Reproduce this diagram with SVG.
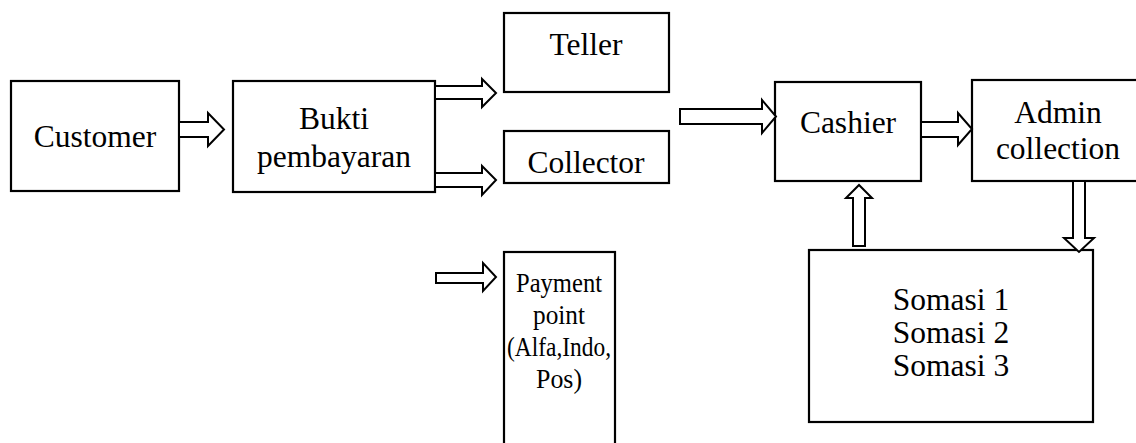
<svg xmlns="http://www.w3.org/2000/svg" width="1136" height="443" viewBox="0 0 1136 443">
<style>
.box{fill:#fff;stroke:#000;stroke-width:2.2}
.arr{fill:#fff;stroke:#000;stroke-width:2;stroke-linejoin:miter}
.t{font-family:"Liberation Serif","Times New Roman",serif;font-size:31.5px;fill:#000;text-anchor:middle}
.p{font-size:28px}
</style>
<rect width="1136" height="443" fill="#fff"/>
<g id="customer"><rect class="box" x="11" y="81" width="168" height="110"/><text class="t" x="95" y="147">Customer</text></g>
<g id="bukti"><rect class="box" x="233" y="81" width="202" height="111"/><text class="t" x="334" y="129">Bukti</text><text class="t" x="334" y="167">pembayaran</text></g>
<g id="teller"><rect class="box" x="504" y="13" width="165" height="79"/><text class="t" x="586" y="55">Teller</text></g>
<g id="collector"><rect class="box" x="504" y="131" width="165" height="52"/><text class="t" x="586" y="173">Collector</text></g>
<g id="payment"><rect class="box" x="504" y="252" width="111" height="210"/>
<text class="t p" x="559" y="292" textLength="86" lengthAdjust="spacingAndGlyphs">Payment</text>
<text class="t p" x="559" y="324" textLength="52" lengthAdjust="spacingAndGlyphs">point</text>
<text class="t p" x="559" y="356" textLength="104" lengthAdjust="spacingAndGlyphs">(Alfa,Indo,</text>
<text class="t p" x="559" y="388" textLength="46" lengthAdjust="spacingAndGlyphs">Pos)</text></g>
<g id="cashier"><rect class="box" x="775" y="82" width="146" height="99"/><text class="t" x="848" y="133">Cashier</text></g>
<g id="admin"><rect class="box" x="972" y="80" width="190" height="101"/><text class="t" x="1058" y="123">Admin</text><text class="t" x="1058" y="159">collection</text></g>
<g id="somasi"><rect class="box" x="809" y="250" width="284" height="172"/><text class="t" x="951" y="310">Somasi 1</text><text class="t" x="951" y="343">Somasi 2</text><text class="t" x="951" y="376">Somasi 3</text></g>
<g id="connectors">
<polygon class="arr" points="179,122 208,122 208,113 224,129.5 208,146 208,137 179,137"/>
<polygon class="arr" points="435,86 482,86 482,79 496,93 482,107 482,99 435,99"/>
<polygon class="arr" points="435,173 482,173 482,166 496,180 482,195 482,187 435,187"/>
<polygon class="arr" points="436,273 483,273 483,263 496,277 483,291 483,283 436,283"/>
<polygon class="arr" points="680,109 762,109 762,100 776,116.5 762,133 762,124 680,124"/>
<polygon class="arr" points="921,122 958,122 958,113 972,129 958,145 958,137 921,137"/>
<polygon class="arr" points="853,246 853,198 846,198 859,185 872,198 865,198 865,246"/>
<polygon class="arr" points="1073,181 1073,238 1064,238 1079,252 1094,238 1085,238 1085,181"/>
</g>
</svg>
